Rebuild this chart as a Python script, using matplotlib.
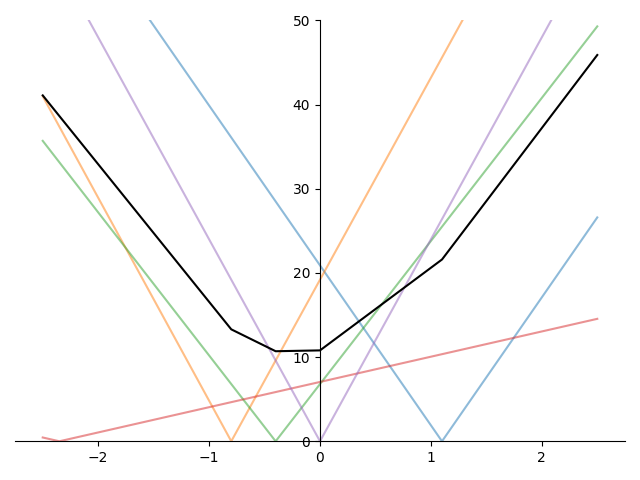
import matplotlib
matplotlib.use('Agg')
import matplotlib.pyplot as plt

# V-shaped lines: endpoints and vertex
blue_x = [-2.5, 1.1, 2.5]
blue_y = [68.4, 0, 26.6]
orange_x = [-2.5, -0.8, 2.5]
orange_y = [41.0, 0, 79.2]
green_x = [-2.5, -0.4, 2.5]
green_y = [35.7, 0, 49.3]
red_x = [-2.5, -2.35, 2.5]
red_y = [0.45, 0, 14.55]
purple_x = [-2.5, 0, 2.5]
purple_y = [60.0, 0, 60.0]

# black average line
avg_x = [-2.5, -0.8, -0.4, 0, 1.1, 2.5]
avg_y = [41.1, 13.3, 10.7, 10.8, 21.6, 45.9]

fig, ax = plt.subplots(figsize=(6.4, 4.8), dpi=100)
ax.plot(blue_x, blue_y, color='tab:blue', alpha=0.5)
ax.plot(orange_x, orange_y, color='tab:orange', alpha=0.5)
ax.plot(green_x, green_y, color='tab:green', alpha=0.5)
ax.plot(red_x, red_y, color='tab:red', alpha=0.5)
ax.plot(purple_x, purple_y, color='tab:purple', alpha=0.5)
ax.plot(avg_x, avg_y, color='black')

ax.set_ylim(0, 50)
ax.spines['left'].set_position('zero')
ax.spines['bottom'].set_position('zero')
ax.spines['top'].set_visible(False)
ax.spines['right'].set_visible(False)

plt.tight_layout()
plt.savefig('out.png')
